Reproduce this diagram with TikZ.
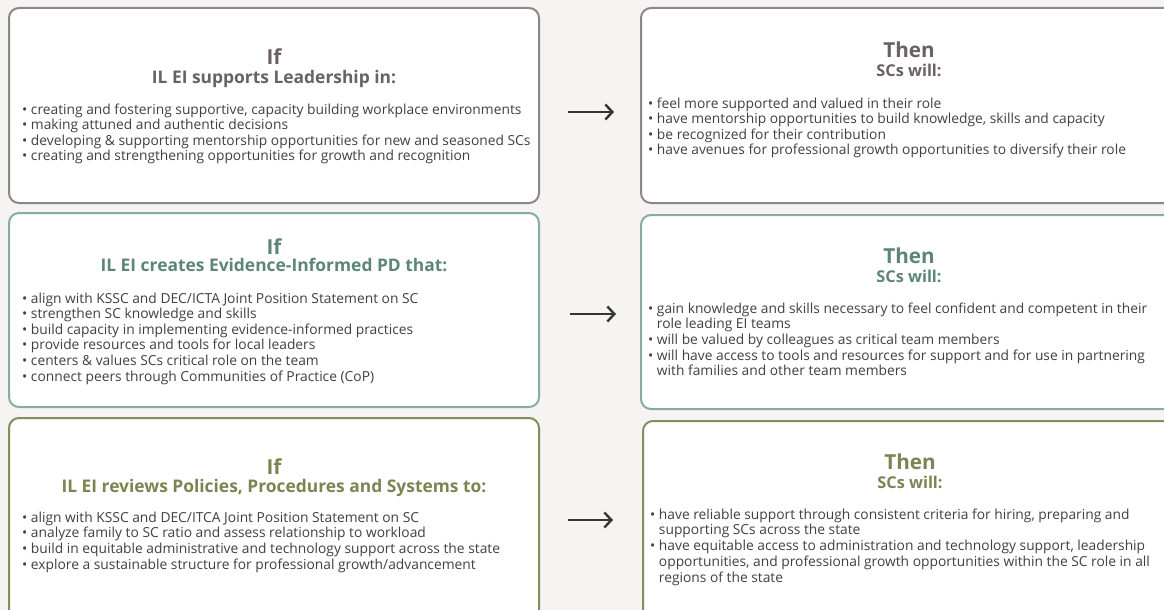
\documentclass[tikz,border=0pt]{standalone}
\usepackage{fontspec}
\setmainfont{Open Sans}
\usetikzlibrary{arrows.meta}
\definecolor{bg}{HTML}{F5F4F2}
\definecolor{grayB}{HTML}{8F8686}
\definecolor{grayT}{HTML}{6A6262}
\definecolor{tealB}{HTML}{86AC9F}
\definecolor{tealT}{HTML}{5E8677}
\definecolor{oliveB}{HTML}{868C5A}
\definecolor{oliveT}{HTML}{7B8552}
\definecolor{bodyT}{HTML}{404040}
\definecolor{arrowC}{HTML}{353535}
\newcommand\bl[1]{\hbox{#1}}
\newcommand\cont{\phantom{•\ }}
\tikzset{
  card/.style={draw=#1, fill=white, line width=2pt, rounded corners=10pt, rectangle, inner sep=0pt},
  bigword/.style={font=\bfseries\fontsize{20.7}{20}\selectfont, text=#1, anchor=base, inner sep=0pt},
  subword/.style={font=\bfseries\fontsize{17.4}{16}\selectfont, text=#1, anchor=base, inner sep=0pt},
  thenword/.style={font=\bfseries\fontsize{16.3}{16}\selectfont, text=#1, anchor=base, inner sep=0pt},
  bullets/.style={font=\fontsize{13.8}{15.7}\selectfont, text=bodyT, anchor=base west, inner sep=0pt},
  flow/.style={draw=arrowC, line width=2.4pt, -{Straight Barb[length=7pt,width=15pt,line width=2.4pt]}}
}
\begin{document}
\begin{tikzpicture}[x=1pt,y=-1pt]
\clip (0,0) rectangle (1164,610);
\fill[bg] (0,0) rectangle (1164,610);

% boxes
\node[card=grayB, minimum width=530pt, minimum height=195pt] (b1L) at (274,105.5) {};
\node[card=grayB, minimum width=536pt, minimum height=195pt] (b1R) at (909,105.5) {};
\node[card=tealB, minimum width=530pt, minimum height=194pt] (b2L) at (274,310) {};
\node[card=tealB, minimum width=536pt, minimum height=194pt] (b2R) at (909,312) {};
\node[card=oliveB, minimum width=530pt, minimum height=202pt] (b3L) at (274,519) {};
\node[card=oliveB, minimum width=536pt, minimum height=199pt] (b3R) at (911,520.5) {};

% row 1
\node[bigword=grayT] (t1L) at (274,65) {If};
\node[subword=grayT] (s1L) at (274,83) {IL EI supports Leadership in:};
\node[bullets] (l1L) at (22,114) {\vtop{\baselineskip=15.6pt
\bl{• creating and fostering supportive, capacity building workplace environments}
\bl{• making attuned and authentic decisions}
\bl{• developing \& supporting mentorship opportunities for new and seasoned SCs}
\bl{• creating and strengthening opportunities for growth and recognition}}};

\node[bigword=grayT] (t1R) at (909,58) {Then};
\node[thenword=grayT] (s1R) at (909,77) {SCs will:};
\node[bullets] (l1R) at (648,108) {\vtop{\baselineskip=15.6pt
\bl{• feel more supported and valued in their role}
\bl{• have mentorship opportunities to build knowledge, skills and capacity}
\bl{• be recognized for their contribution}
\bl{• have avenues for professional growth opportunities to diversify their role}}};

% row 2
\node[bigword=tealT] (t2L) at (274,254) {If};
\node[subword=tealT] (s2L) at (274,271) {IL EI creates Evidence-Informed PD that:};
\node[bullets] (l2L) at (22,303) {\vtop{\baselineskip=15.6pt
\bl{• align with KSSC and DEC/ICTA Joint Position Statement on SC}
\bl{• strengthen SC knowledge and skills}
\bl{• build capacity in implementing evidence-informed practices}
\bl{• provide resources and tools for local leaders}
\bl{• centers \& values SCs critical role on the team}
\bl{• connect peers through Communities of Practice (CoP)}}};

\node[bigword=tealT] (t2R) at (909,263) {Then};
\node[thenword=tealT] (s2R) at (909,282) {SCs will:};
\node[bullets] (l2R) at (648,313) {\vtop{\baselineskip=15.7pt
\bl{• gain knowledge and skills necessary to feel confident and competent in their}
\bl{\cont role leading EI teams}
\bl{• will be valued by colleagues as critical team members}
\bl{• will have access to tools and resources for support and for use in partnering}
\bl{\cont with families and other team members}}};

% row 3
\node[bigword=oliveT] (t3L) at (274,474) {If};
\node[subword=oliveT] (s3L) at (274,492) {IL EI reviews Policies, Procedures and Systems to:};
\node[bullets] (l3L) at (22,522) {\vtop{\baselineskip=15.8pt
\bl{• align with KSSC and DEC/ITCA Joint Position Statement on SC}
\bl{• analyze family to SC ratio and assess relationship to workload}
\bl{• build in equitable administrative and technology support across the state}
\bl{• explore a sustainable structure for professional growth/advancement}}};

\node[bigword=oliveT] (t3R) at (910,469) {Then};
\node[thenword=oliveT] (s3R) at (910,488) {SCs will:};
\node[bullets] (l3R) at (650,519) {\vtop{\baselineskip=15.8pt
\bl{• have reliable support through consistent criteria for hiring, preparing and}
\bl{\cont supporting SCs across the state}
\bl{• have equitable access to administration and technology support, leadership}
\bl{\cont opportunities, and professional growth opportunities within the SC role in all}
\bl{\cont regions of the state}}};

% arrows
\coordinate (a1s) at (568,112); \coordinate (a1e) at (614,112);
\coordinate (a2s) at (570,314); \coordinate (a2e) at (616,314);
\coordinate (a3s) at (568,520); \coordinate (a3e) at (613,520);
\draw[flow] (a1s) -- (a1e);
\draw[flow] (a2s) -- (a2e);
\draw[flow] (a3s) -- (a3e);
\end{tikzpicture}
\end{document}
